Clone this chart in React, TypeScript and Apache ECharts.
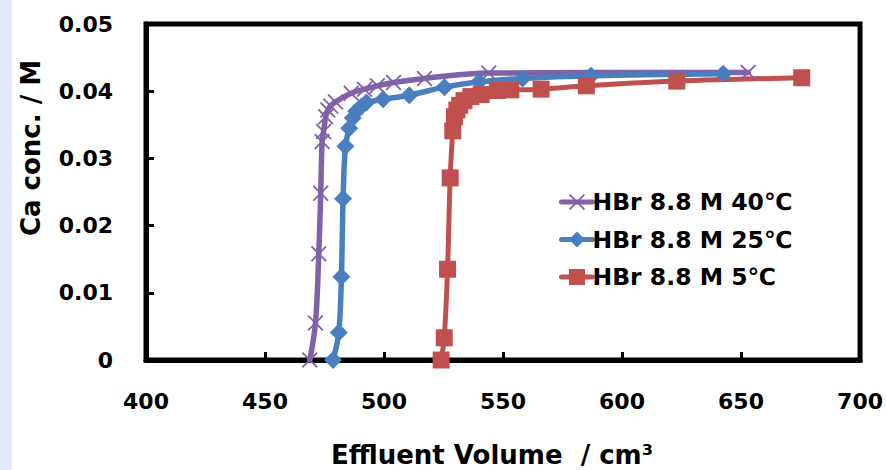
import React, { useEffect, useRef } from "react";
import * as echarts from "echarts";

const seriesNames = ["HBr 8.8 M 40℃", "HBr 8.8 M 25℃", "HBr 8.8 M 5℃"];

const vol40 = [468.8, 471.2, 472.6, 473.4, 474.0, 474.6, 475.5, 476.4, 477.6, 479.6, 486.2, 491.8, 497.2, 504, 517, 544, 653];
const conc40 = [0, 0.0055, 0.0158, 0.0248, 0.0325, 0.034, 0.0362, 0.0372, 0.0378, 0.0384, 0.0397, 0.0403, 0.0408, 0.0413, 0.0419, 0.0427, 0.0428];

const vol25 = [478.6, 481.0, 482.1, 482.8, 483.8, 485.4, 486.9, 488.3, 490.4, 492.6, 499.6, 510.6, 525.4, 540.0, 558.2, 587.0, 642.5];
const conc25 = [0, 0.0041, 0.0124, 0.024, 0.0318, 0.0345, 0.036, 0.037, 0.0377, 0.0383, 0.0388, 0.0394, 0.0406, 0.0414, 0.0419, 0.0423, 0.0426];

const vol5 = [524.0, 525.3, 526.7, 527.8, 528.9, 529.6, 530.6, 531.8, 533.6, 536.5, 540.8, 547.6, 553.3, 566.0, 585.0, 623.0, 675.5];
const conc5 = [0, 0.0033, 0.0135, 0.0271, 0.0341, 0.0362, 0.0372, 0.0379, 0.0386, 0.0392, 0.0395, 0.0401, 0.0402, 0.0403, 0.0408, 0.0415, 0.042];

const xMin = 400;
const xMax = 700;
const xStep = 50;
const yMin = 0;
const yMax = 0.05;
const yStep = 0.01;

const yTitle = "Ca conc. / M";
const xTitle = "Effluent Volume  / cm³";

const colors = ["#7f62a8", "#4a7fbf", "#c0504d"];

const crossPath =
  "path://M0 0.8 L0.8 0 L5 4.2 L9.2 0 L10 0.8 L5.8 5 L10 9.2 L9.2 10 L5 5.8 L0.8 10 L0 9.2 L4.2 5 Z";

const FONT = "'DejaVu Sans', sans-serif";

function pairs(xs: number[], ys: number[]) {
  return xs.map((x, i) => [x, ys[i]]);
}

export default function App() {
  const ref = useRef<HTMLDivElement>(null);
  useEffect(() => {
    if (!ref.current) return;
    const chart = echarts.init(ref.current, undefined, { renderer: "svg" });
    const lineSeries = (idx: number, xs: number[], ys: number[], symbol: string, size: number, width: number) => ({
      name: seriesNames[idx],
      type: "line",
      data: pairs(xs, ys),
      smooth: 0.35,
      symbol,
      symbolSize: size,
      showAllSymbol: true,
      lineStyle: { color: colors[idx], width, cap: "round", join: "round" },
      itemStyle: { color: colors[idx], borderWidth: 0 },
      emphasis: { disabled: true },
    });
    chart.setOption({
      animation: false,
      backgroundColor: "#ffffff",
      grid: {
        left: 146,
        right: 24,
        top: 24,
        bottom: 110,
        show: true,
        borderColor: "#000",
        borderWidth: 5,
        containLabel: false,
      },
      xAxis: {
        type: "value",
        min: xMin,
        max: xMax,
        interval: xStep,
        axisLine: { show: true, lineStyle: { color: "#000", width: 5 } },
        axisTick: { show: true, inside: true, length: 8, lineStyle: { color: "#000", width: 3 } },
        axisLabel: { color: "#000", fontFamily: FONT, fontWeight: "bold", fontSize: 22, margin: 30 },
        splitLine: { show: false },
      },
      yAxis: {
        type: "value",
        min: yMin,
        max: yMax,
        interval: yStep,
        axisLine: { show: true, lineStyle: { color: "#000", width: 5 } },
        axisTick: { show: true, inside: true, length: 8, lineStyle: { color: "#000", width: 3 } },
        axisLabel: {
          color: "#000",
          fontFamily: FONT,
          fontWeight: "bold",
          fontSize: 22,
          margin: 33,
          formatter: (v: number) => (v === 0 ? "0" : v.toFixed(2)),
        },
        splitLine: { show: false },
      },
      legend: {
        orient: "vertical",
        left: 554,
        top: 185,
        itemWidth: 31,
        itemHeight: 20,
        itemGap: 13.5,
        selectedMode: false,
        lineStyle: { width: 5, cap: "round" },
        textStyle: { color: "#000", fontFamily: FONT, fontWeight: "bold", fontSize: 23.5, padding: [0, 0, 0, -5] },
        data: seriesNames,
      },
      graphic: [
        { type: "rect", left: 0, top: 0, shape: { width: 12, height: 470 }, style: { fill: "#e4e8fb" }, z: -1 },
        {
          type: "text",
          x: 31,
          y: 148,
          rotation: Math.PI / 2,
          style: {
            text: yTitle,
            fill: "#000",
            font: `bold 26px ${FONT}`,
            textAlign: "center",
            textVerticalAlign: "middle",
          },
        },
        {
          type: "text",
          x: 492,
          y: 455,
          style: {
            text: xTitle,
            fill: "#000",
            font: `bold 26px ${FONT}`,
            textAlign: "center",
            textVerticalAlign: "middle",
          },
        },
      ],
      series: [
        lineSeries(0, vol40, conc40, crossPath, 16, 5.5),
        lineSeries(1, vol25, conc25, "diamond", 18, 5.5),
        lineSeries(2, vol5, conc5, "rect", 17, 5),
      ],
    });
    return () => chart.dispose();
  }, []);
  return <div ref={ref} style={{ position: "fixed", left: 0, top: 0, width: 886, height: 470 }} />;
}
